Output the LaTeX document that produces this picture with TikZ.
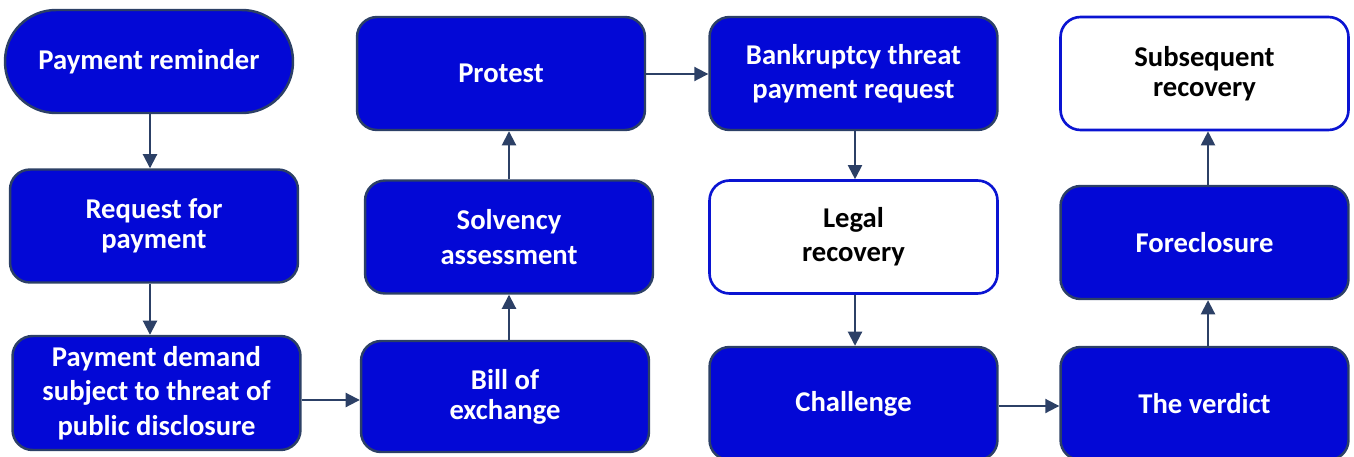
\documentclass[tikz,border=0pt]{standalone}
\usepackage{fontspec}
\setmainfont{Carlito}
\usepackage{tikz}
\usetikzlibrary{positioning,arrows.meta}

\definecolor{boxblue}{RGB}{3,8,214}
\definecolor{edgegray}{RGB}{44,64,102}
\definecolor{lineblue}{RGB}{10,20,210}

\begin{document}
\begin{tikzpicture}[x=0.02cm, y=-0.02cm,
    stepbox/.style={draw=edgegray, line width=1.4pt, fill=boxblue, rounded corners=0.4cm,
        minimum width=5.76cm, minimum height=2.26cm, text=white, align=center,
        font=\bfseries\fontsize{16.3}{19.5}\selectfont},
    tightbox/.style={font=\bfseries\fontsize{16.3}{17.2}\selectfont},
    openbox/.style={stepbox, draw=lineblue, line width=1.5pt, fill=white, text=black},
    flow/.style={draw=edgegray, line width=1.1pt, -{Triangle[length=8pt,width=8pt]}}]

    % picture frame, the lowest boxes run off its bottom edge
    \clip (0,0) rectangle (1354,456);

    % First column
    \node[stepbox, rounded corners=1.02cm, minimum height=2.06cm] (remind) at (149,61.5) {Payment reminder};
    \node[stepbox, tightbox] (request) at (154,226) {Request for\\payment};
    \node[stepbox, minimum height=2.28cm] (demand) at (156.5,393) {Payment demand\\subject to threat of\\public disclosure};

    % Second column
    \node[stepbox, tightbox, minimum height=2.22cm] (bill) at (505,396.5) {Bill of\\exchange};
    \node[stepbox] (solvency) at (509,237) {Solvency\\assessment};
    \node[stepbox] (protest) at (501,73.5) {Protest};

    % Third column
    \node[stepbox] (threat) at (853.5,73.5) {Bankruptcy threat\\payment request};
    \node[openbox] (legal) at (853.5,237) {Legal\\recovery};
    \node[stepbox] (challenge) at (853.5,403.5) {Challenge};

    % Fourth column
    \node[stepbox] (verdict) at (1204.5,403.5) {The verdict};
    \node[stepbox] (foreclose) at (1204.5,242.5) {Foreclosure};
    \node[openbox, tightbox] (later) at (1204.5,73.5) {Subsequent\\recovery};

    % Connectors
    \draw[flow] (remind.south -| 150,0) -- (request.north -| 150,0);
    \draw[flow] (request.south -| 150,0) -- (demand.north -| 150,0);
    \draw[flow] (demand.east |- 0,400) -- (bill.west |- 0,400);
    \draw[flow] (bill.north -| solvency) -- (solvency.south);
    \draw[flow] (solvency.north) -- (solvency.north |- protest.south);
    \draw[flow] (protest.east |- 0,74) -- (threat.west |- 0,74);
    \draw[flow] (threat.south -| 855,0) -- (legal.north -| 855,0);
    \draw[flow] (legal.south -| 855,0) -- (challenge.north -| 855,0);
    \draw[flow] (challenge.east |- 0,406) -- (verdict.west |- 0,406);
    \draw[flow] (verdict.north -| 1208,0) -- (foreclose.south -| 1208,0);
    \draw[flow] (foreclose.north -| 1208,0) -- (later.south -| 1208,0);

\end{tikzpicture}
\end{document}
